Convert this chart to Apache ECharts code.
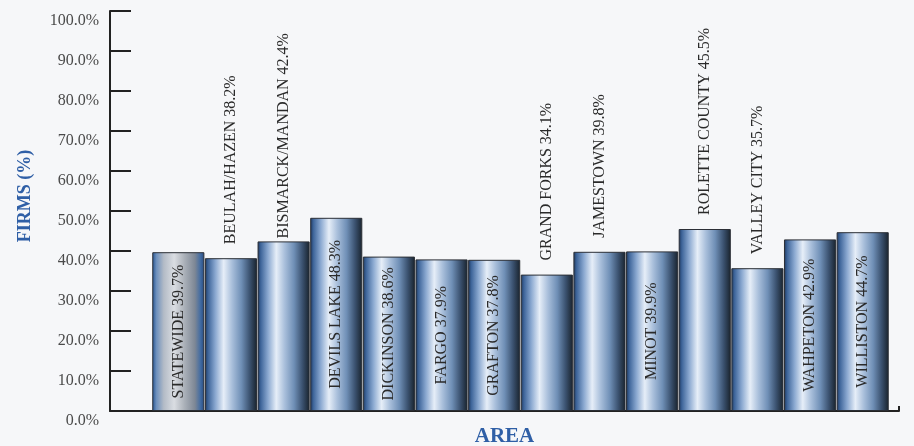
<!DOCTYPE html>
<html>
<head>
<meta charset="utf-8">
<script src="https://cdn.jsdelivr.net/npm/echarts@6/dist/echarts.min.js"></script>
<style>
html,body{margin:0;padding:0;background:#f6f7f9;}
#chart{width:914px;height:446px;}
</style>
</head>
<body>
<div id="chart"></div>
<script>
const categories = ['STATEWIDE','BEULAH/HAZEN','BISMARCK/MANDAN','DEVILS LAKE','DICKINSON','FARGO','GRAFTON','GRAND FORKS','JAMESTOWN','MINOT','ROLETTE COUNTY','VALLEY CITY','WAHPETON','WILLISTON'];
const values = [39.7, 38.2, 42.4, 48.3, 38.6, 37.9, 37.8, 34.1, 39.8, 39.9, 45.5, 35.7, 42.9, 44.7];
const yTicks = [0,10,20,30,40,50,60,70,80,90,100];
const labelsAbove = ['BEULAH/HAZEN','BISMARCK/MANDAN','GRAND FORKS','JAMESTOWN','ROLETTE COUNTY','VALLEY CITY'];

const G = echarts.graphic.LinearGradient;
const blueGrad = new G(0,0,1,0,[
  {offset:0,color:'#1c3458'},
  {offset:0.06,color:'#3d6499'},
  {offset:0.2,color:'#8aa8d0'},
  {offset:0.36,color:'#e6eef8'},
  {offset:0.52,color:'#a9bfdb'},
  {offset:0.7,color:'#6f8fb6'},
  {offset:0.86,color:'#3b5270'},
  {offset:1,color:'#18222c'}
]);
const grayGrad = new G(0,0,1,0,[
  {offset:0,color:'#24528f'},
  {offset:0.08,color:'#6d90bd'},
  {offset:0.22,color:'#b3bbc6'},
  {offset:0.42,color:'#dadde2'},
  {offset:0.62,color:'#aab0b8'},
  {offset:0.82,color:'#7d8795'},
  {offset:0.93,color:'#3f6aa2'},
  {offset:1,color:'#28487a'}
]);

const data = categories.map((c,i)=>{
  const above = labelsAbove.indexOf(c) >= 0;
  return {
    value: values[i],
    name: c,
    itemStyle: {color: i===0 ? grayGrad : blueGrad},
    label: above ? {
      position:'top', rotate:90, align:'left', verticalAlign:'middle',
      distance: c==='BISMARCK/MANDAN' ? 3 : 14
    } : {
      position:'inside', rotate:90, align:'center', verticalAlign:'middle'
    }
  };
});

const chart = echarts.init(document.getElementById('chart'));
chart.setOption({
  backgroundColor:'#f6f7f9',
  animation:false,
  grid:[
    {left:110, right:15, top:11, bottom:35, containLabel:false, outerBoundsMode:'none'},
    {left:152, right:25, top:11, bottom:35, containLabel:false, outerBoundsMode:'none'}
  ],
  xAxis:[
    {gridIndex:0, type:'value', min:0, max:1, interval:1,
     axisLine:{show:true, lineStyle:{color:'#222', width:2}},
     axisTick:{show:true, inside:true, length:5, lineStyle:{color:'#222', width:2}},
     axisLabel:{show:false}, splitLine:{show:false},
     name:'AREA', nameLocation:'middle', nameGap:15,
     nameTextStyle:{fontFamily:'Liberation Serif', fontWeight:'bold', fontSize:21, color:'#2f5fa6'}},
    {gridIndex:1, type:'category', data:categories, show:false}
  ],
  yAxis:[
    {gridIndex:0, type:'value', min:0, max:100, interval:10,
     axisLine:{show:true, lineStyle:{color:'#222', width:2}},
     axisTick:{show:true, inside:true, length:21, lineStyle:{color:'#222', width:2}},
     splitLine:{show:false},
     axisLabel:{formatter:v=>v.toFixed(1)+'%', fontFamily:'Liberation Serif', fontSize:16, color:'#4a4a4a', margin:11, verticalAlign:'top', padding:[2,0,0,0]}},
    {gridIndex:1, type:'value', min:0, max:100, show:false}
  ],
  graphic:[{
    type:'text', x:25, y:196, rotation:Math.PI/2,
    style:{text:'FIRMS (%)', fill:'#2f5fa6', font:'bold 18px "Liberation Serif"', textAlign:'center', textVerticalAlign:'middle'}
  }],
  series:[{
    type:'bar', xAxisIndex:1, yAxisIndex:1, data:data,
    barCategoryGap:'1%',
    itemStyle:{borderColor:'#2b2f36', borderWidth:1},
    label:{show:true, formatter:p=>p.name+' '+p.value.toFixed(1)+'%',
      fontFamily:'Liberation Serif', fontSize:16, color:'#2a2a2a'}
  }]
});
</script>
</body>
</html>
